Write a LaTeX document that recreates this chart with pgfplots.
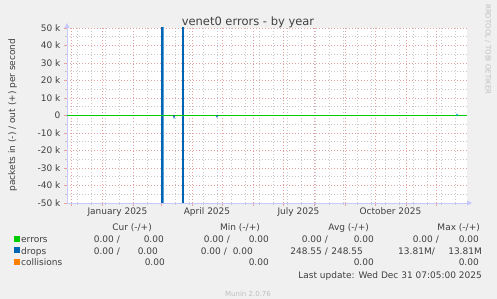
\documentclass[border=0pt]{standalone}
\usepackage{fontspec}
\setmainfont{DejaVu Sans}
\usepackage{pgfplots}
\pgfplotsset{compat=1.18}
\usetikzlibrary{arrows.meta}
\definecolor{bg}{HTML}{F0F0F0}
\definecolor{txt}{HTML}{404040}
\definecolor{mgrid}{HTML}{E5A0A0}
\definecolor{ngrid}{HTML}{C8C8C8}
\definecolor{axc}{HTML}{C8C8FF}
\definecolor{errc}{HTML}{00CC00}
\definecolor{dropc}{HTML}{0066B3}
\definecolor{lightdrop}{HTML}{5A9FD6}
\definecolor{colc}{HTML}{FF8000}
\newcommand{\lf}{\fontsize{9}{10}\selectfont}
\begin{document}
\begin{tikzpicture}[x=1pt,y=1pt]
\useasboundingbox (0,0) rectangle (497,299);
\fill[bg] (0,0) rectangle (497,299);
\begin{axis}[
  at={(67pt,96pt)}, anchor=south west,
  width=400pt, height=175pt, scale only axis,
  xmin=-35, xmax=365, ymin=-50000, ymax=50000,
  axis lines=left,
  axis background/.style={fill=white},
  axis line style={draw=axc, line width=0.8pt},
  x axis line style={-{Triangle[length=5pt,width=5pt]}, shorten >=-5pt},
  y axis line style={-{Triangle[length=5pt,width=5pt]}, shorten >=-5pt},
  xtick={-31,0,31,59,90,120,151,181,212,243,273,304,334},
  xticklabels={},
  minor xtick={-25,-11,3,17,45,73,87,101,115,129,143,157,171,185,199,213,227,241,255,269,283,297,311,325,339,353},
  extra x ticks={15.5,105,196.5,288.5},
  extra x tick labels={January 2025,April 2025,July 2025,October 2025},
  extra x tick style={grid=none, major tick length=0pt},
  xticklabel style={yshift=-1.5pt},
  ytick={-50000,-40000,-30000,-20000,-10000,0,10000,20000,30000,40000,50000},
  yticklabels={-50 k,-40 k,-30 k,-20 k,-10 k,0,10 k,20 k,30 k,40 k,50 k},
  minor ytick={-45000,-35000,-25000,-15000,-5000,5000,15000,25000,35000,45000},
  scaled y ticks=false,
  grid=both,
  major grid style={draw=mgrid, line width=0.6pt, dash pattern=on 1pt off 2pt},
  minor grid style={draw=ngrid, line width=0.6pt, dash pattern=on 1pt off 2pt},
  tick align=outside,
  major tick length=3pt, minor tick length=2pt,
  major tick style={draw=mgrid, line width=0.6pt},
  minor tick style={draw=ngrid, line width=0.6pt},
  tick label style={font=\lf, text=txt},
  /pgf/number format/assume math mode=true,
  clip=true,
]
\addplot[lightdrop, line width=1.2pt] coordinates {(61,-60000) (61,60000)};
\addplot[dropc, line width=1.1pt] coordinates {(60,-60000) (60,60000)};
\addplot[dropc, line width=1.1pt] coordinates {(81,-60000) (81,60000)};
\addplot[draw=colc, line width=1.2pt] coordinates {(-35,0) (365,0)};
\addplot[draw=black!80, line width=1.2pt, dash pattern=on 3pt off 7pt] coordinates {(-35,0) (365,0)};
\addplot[draw=errc, color=errc, line width=1.2pt] coordinates {(-35,0) (365,0)};
\addplot[draw=dropc, line width=1.1pt] coordinates {(71.5,0) (72,-1000) (72.5,0)};
\addplot[draw=dropc, line width=1.1pt] coordinates {(114.5,0) (115,-600) (115.5,0)};
\addplot[draw=dropc!60!cyan, line width=1.2pt] coordinates {(354.5,0) (355,500) (355.5,0)};
\end{axis}
% title
\node[anchor=base, font=\fontsize{11.5}{14}\selectfont, text=txt] at (248,273) {venet0 errors - by year};
% y label
\node[rotate=90, anchor=base, font=\lf, text=txt] at (15,184) {packets in (-) / out (+) per second};
% rrdtool
\node[rotate=-90, anchor=north west, font=\fontsize{7}{8}\selectfont, text=black!25, inner sep=0pt] at (491,295) {RRDTOOL / TOBI OETIKER};
% legend
\begin{scope}[every node/.style={font=\lf, text=txt, inner sep=0pt}]
\node[anchor=base east] at (152,68) {Cur (-/+)};
\node[anchor=base east] at (260,68) {Min (-/+)};
\node[anchor=base east] at (369,68) {Avg (-/+)};
\node[anchor=base east] at (480,68) {Max (-/+)};
\fill[errc] (14,57) rectangle (20,63);
\node[anchor=base west] at (21,56) {errors};
\node[anchor=base east] at (120,56) {0.00 /};
\node[anchor=base east] at (164,56) {0.00};
\node[anchor=base east] at (230,56) {0.00 /};
\node[anchor=base east] at (269,56) {0.00};
\node[anchor=base east] at (328,56) {0.00 /};
\node[anchor=base east] at (374,56) {0.00};
\node[anchor=base east] at (439,56) {0.00 /};
\node[anchor=base east] at (479,56) {0.00};
\fill[dropc] (14,45.5) rectangle (20,51.5);
\node[anchor=base west] at (21,44.5) {drops};
\node[anchor=base east] at (120,44.5) {0.00 /};
\node[anchor=base east] at (158,44.5) {0.00};
\node[anchor=base east] at (227,44.5) {0.00 /};
\node[anchor=base east] at (253,44.5) {0.00};
\node[anchor=base east] at (328,44.5) {248.55 /};
\node[anchor=base east] at (363,44.5) {248.55};
\node[anchor=base east] at (435,44.5) {13.81M/};
\node[anchor=base east] at (482,44.5) {13.81M};
\fill[colc] (14,34) rectangle (20,40);
\node[anchor=base west] at (21,33) {collisions};
\node[anchor=base east] at (165,33) {0.00};
\node[anchor=base east] at (269,33) {0.00};
\node[anchor=base east] at (374,33) {0.00};
\node[anchor=base east] at (479,33) {0.00};
\node[anchor=base east] at (482,20.5) {Last update: Wed Dec 31 07:05:00 2025};
\node[anchor=base, font=\fontsize{7}{8}\selectfont, text=black!25] at (248,2) {Munin 2.0.76};
\end{scope}
\end{tikzpicture}
\end{document}
